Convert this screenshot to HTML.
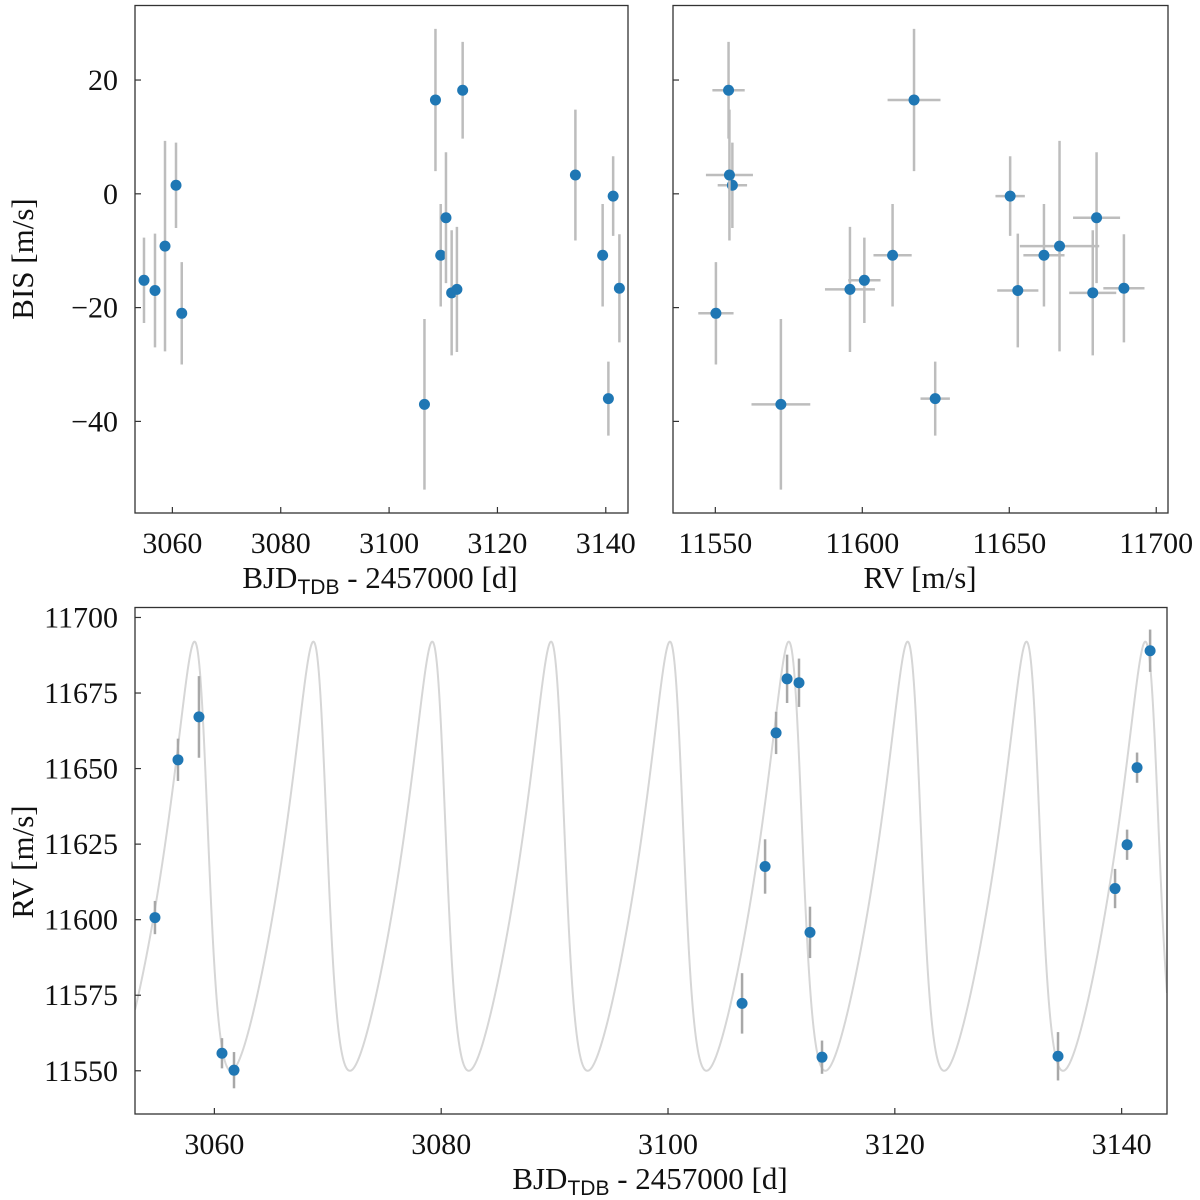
<!DOCTYPE html>
<html><head><meta charset="utf-8"><style>
html,body{margin:0;padding:0;background:#fff}
svg{display:block}
text{font-family:"Liberation Serif",serif;fill:#111}
</style></head><body>
<svg id="c" width="1200" height="1200" xmlns="http://www.w3.org/2000/svg"></svg>
<script>
const times=[3054.76,3056.79,3058.64,3060.67,3061.73,3106.53,3108.56,3109.53,3110.50,3111.55,3112.52,3113.58,3134.39,3139.42,3140.48,3141.36,3142.51];
const rvs=[11600.7,11652.9,11667.1,11555.8,11550.2,11572.3,11617.6,11661.8,11679.7,11678.4,11595.8,11554.5,11554.8,11610.3,11624.8,11650.3,11689.0];
const rvErr=[5.5,7,13.5,5,6,10,9,7,8,8,8.5,5.5,8,6.5,5,5,7];
const bis=[-15.2,-17,-9.2,1.5,-21,-37,16.5,-10.8,-4.2,-17.4,-16.8,18.2,3.3,-10.8,-36,-0.4,-16.6];
const bisErr=[7.5,10,18.5,7.5,9,15,12.5,9,11.5,11,11,8.5,11.5,9,6.5,7,9.5];
const timeTicks=[3060,3080,3100,3120,3140];
const bisTicks=[20,0,-20,-40];
const rvTicksX=[11550,11600,11650,11700];
const rvTicksY=[11550,11575,11600,11625,11650,11675,11700];
// Keplerian model parameters
const kepP=10.48, kepK=71, kepE=0.35, kepW=60*Math.PI/180, kepTmax=3058.25, kepMax=11692;

const svg=document.getElementById('c');
const NS='http://www.w3.org/2000/svg';
function mk(tag,attrs,parent){const e=document.createElementNS(NS,tag);for(const k in attrs)e.setAttribute(k,attrs[k]);(parent||svg).appendChild(e);return e;}
function lin(d0,d1,r0,r1){return v=>r0+(v-d0)/(d1-d0)*(r1-r0);}

const P1={l:135,r:628,t:5.5,b:513}, P2={l:673,r:1168,t:5.5,b:513}, P3={l:135,r:1167,t:607.5,b:1114};
const xT1=lin(3053.1,3144.1,P1.l,P1.r), yB1=lin(33.1,-56.1,P1.t,P1.b);
const xR2=lin(11535.6,11704,P2.l,P2.r), yB2=yB1;
const xT3=lin(3053.0,3144.0,P3.l,P3.r), yR3=lin(11703.3,11535.7,P3.t,P3.b);

function frame(P,name){
  const g=mk('g',{});
  
  
  mk('rect',{x:P.l,y:P.t,width:P.r-P.l,height:P.b-P.t,fill:'none',stroke:'#333','stroke-width':1.3},g);
  return g;
}
function xticks(P,ticks,sc,labels,name){
  const g=mk('g',{});
  
  
  ticks.forEach(v=>{const x=sc(v);mk('line',{x1:x,x2:x,y1:P.b,y2:P.b-6,stroke:'#333','stroke-width':1.2},g);
    if(labels){const t=mk('text',{x:x,y:P.b+40,'text-anchor':'middle','font-size':30},g);t.textContent=v;}});
}
function yticks(P,ticks,sc,labels,name,fmt){
  const g=mk('g',{});
  
  
  ticks.forEach(v=>{const y=sc(v);mk('line',{x1:P.l,x2:P.l+6,y1:y,y2:y,stroke:'#333','stroke-width':1.2},g);
    if(labels){const t=mk('text',{x:P.l-17,y:y+10,'text-anchor':'end','font-size':30},g);t.textContent=fmt?fmt(v):v;}});
}
const minus=v=>v<0?'\u2212'+(-v):String(v);

function kep(t){
  const nu0=-kepW;
  const E0=2*Math.atan(Math.sqrt((1-kepE)/(1+kepE))*Math.tan(nu0/2));
  const M0=E0-kepE*Math.sin(E0);
  const Tp=kepTmax-M0*kepP/(2*Math.PI);
  let M=2*Math.PI*(t-Tp)/kepP;
  let E=M;for(let i=0;i<40;i++)E=E-(E-kepE*Math.sin(E)-M)/(1-kepE*Math.cos(E));
  const nu=2*Math.atan2(Math.sqrt(1+kepE)*Math.sin(E/2),Math.sqrt(1-kepE)*Math.cos(E/2));
  const gam=kepMax-kepK*(1+kepE*Math.cos(kepW));
  return gam+kepK*(Math.cos(nu+kepW)+kepE*Math.cos(kepW));
}
const cp=mk('clipPath',{id:'cp3'});
mk('rect',{x:P3.l,y:P3.t,width:P3.r-P3.l,height:P3.b-P3.t},cp);
let d='';
for(let i=0;i<=3000;i++){const t=3053.0+(3144.0-3053.0)*i/3000;d+=(i?'L':'M')+xT3(t).toFixed(2)+','+yR3(kep(t)).toFixed(2);}
const curve=mk('path',{d:d,fill:'none',stroke:'#d6d6d6','stroke-width':2,'clip-path':'url(#cp3)'});



const EB='#bdbdbd', DOT='#1f77b4';
times.forEach((t,i)=>{
  const x=xT1(t),y=yB1(bis[i]);
  const g=mk('g',{});
  
  
  mk('line',{x1:x,x2:x,y1:yB1(bis[i]+bisErr[i]),y2:yB1(bis[i]-bisErr[i]),stroke:EB,'stroke-width':2.5},g);
  mk('circle',{cx:x,cy:y,r:5.5,fill:DOT},g);
});
rvs.forEach((v,i)=>{
  const x=xR2(v),y=yB2(bis[i]);
  const g=mk('g',{});
  
  
  mk('line',{x1:x,x2:x,y1:yB2(bis[i]+bisErr[i]),y2:yB2(bis[i]-bisErr[i]),stroke:EB,'stroke-width':2.5},g);
  mk('line',{x1:xR2(v-rvErr[i]),x2:xR2(v+rvErr[i]),y1:y,y2:y,stroke:EB,'stroke-width':2.5},g);
  mk('circle',{cx:x,cy:y,r:5.5,fill:DOT},g);
});
times.forEach((t,i)=>{
  const x=xT3(t),y=yR3(rvs[i]);
  const g=mk('g',{});
  
  
  mk('line',{x1:x,x2:x,y1:yR3(rvs[i]+rvErr[i]),y2:yR3(rvs[i]-rvErr[i]),stroke:'#a8a8a8','stroke-width':2.5},g);
  mk('circle',{cx:x,cy:y,r:5.5,fill:DOT},g);
});

frame(P1,'bis-time-panel');frame(P2,'bis-rv-panel');frame(P3,'rv-time-panel');
xticks(P1,timeTicks,xT1,true,'x-axis-ticks-top-left');
yticks(P1,bisTicks,yB1,true,'y-axis-ticks-bis',minus);
xticks(P2,rvTicksX,xR2,true,'x-axis-ticks-rv');
yticks(P2,bisTicks,yB2,false,'y-axis-ticks-top-right');
xticks(P3,timeTicks,xT3,true,'x-axis-ticks-bottom');
yticks(P3,rvTicksY,yR3,true,'y-axis-ticks-rv');
</script>
<div style="position:absolute;left:0;top:0;width:1200px;height:1200px;pointer-events:none">
<svg width="1200" height="1200" xmlns="http://www.w3.org/2000/svg">
<text x="380" y="588" text-anchor="middle" font-size="31">BJD<tspan font-family="Liberation Sans, sans-serif" font-size="21" dy="6">TDB</tspan><tspan dy="-6"> - 2457000 [d]</tspan></text>
<text x="920" y="588" text-anchor="middle" font-size="31">RV [m/s]</text>
<text x="650" y="1189" text-anchor="middle" font-size="31">BJD<tspan font-family="Liberation Sans, sans-serif" font-size="21" dy="6">TDB</tspan><tspan dy="-6"> - 2457000 [d]</tspan></text>
<text x="0" y="0" transform="translate(33,259) rotate(-90)" text-anchor="middle" font-size="31">BIS [m/s]</text>
<text x="0" y="0" transform="translate(33,862) rotate(-90)" text-anchor="middle" font-size="31">RV [m/s]</text>
</svg></div>
</body></html>
